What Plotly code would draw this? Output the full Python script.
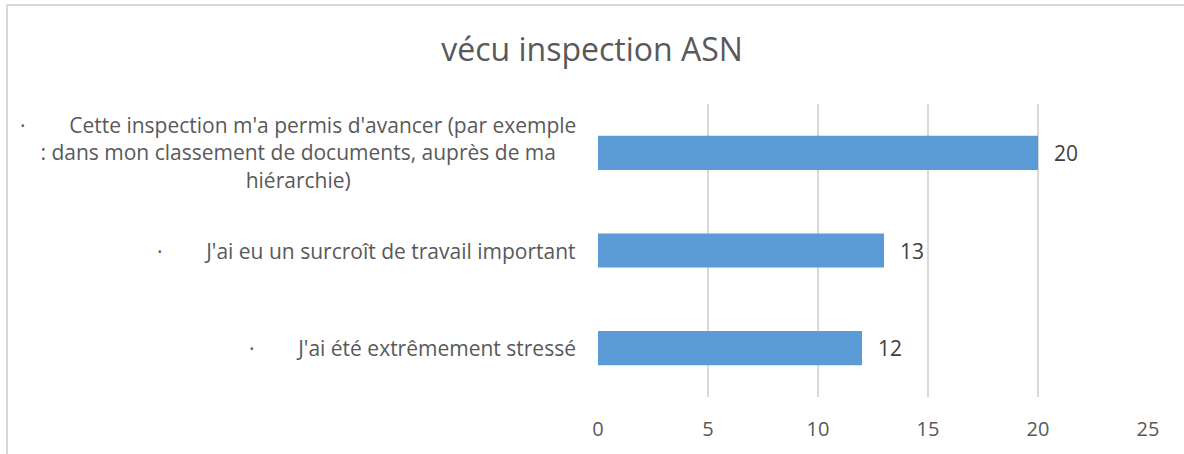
import plotly.graph_objects as go

NBSP = '\u00a0'

# categories, bottom to top as drawn
categories = [
    'stress',
    'travail',
    'avancer',
]
labels = [
    '·' + NBSP * 8 + "J'ai été extrêmement stressé",
    '·' + NBSP * 8 + "J'ai eu un surcroît de travail important",
    '·' + NBSP * 8 + "Cette inspection m'a permis d'avancer (par exemple<br>"
    ": dans mon classement de documents, auprès de ma<br>hiérarchie)",
]
values = [12, 13, 20]
x_ticks = [0, 5, 10, 15, 20, 25]

BAR_COLOR = '#5B9BD5'
TEXT_COLOR = '#595959'
GRID_COLOR = '#D9D9D9'
FONT = 'Open Sans, Noto Sans, sans-serif'

fig = go.Figure()
fig.add_trace(go.Bar(
    y=categories,
    x=values,
    orientation='h',
    marker=dict(color=BAR_COLOR, line=dict(width=0)),
    hoverinfo='x+y',
))

# category labels, centred multi-line like the original
for cat, lab in zip(categories, labels):
    fig.add_annotation(
        x=0, xref='paper', y=cat, yref='y',
        text=lab, showarrow=False,
        xanchor='right', yanchor='middle', align='center',
        xshift=-20,
        font=dict(family=FONT, size=21, color=TEXT_COLOR),
    )

# value labels at bar ends
for cat, val in zip(categories, values):
    fig.add_annotation(
        x=val, xref='x', y=cat, yref='y',
        text=str(val), showarrow=False,
        xanchor='left', yanchor='middle', xshift=14,
        font=dict(family=FONT, size=21, color='#404040'),
    )

# light frame around the chart (top and left visible)
fig.add_shape(
    type='rect', xref='paper', yref='paper',
    x0=-1.0745, x1=1.2, y0=-0.5, y1=1.338,
    line=dict(color=GRID_COLOR, width=2), fillcolor='rgba(0,0,0,0)',
    layer='below',
)

fig.update_layout(
    width=1184,
    height=454,
    margin=dict(l=598, r=36, t=104, b=57),
    paper_bgcolor='white',
    plot_bgcolor='white',
    showlegend=False,
    bargap=0.65,
    title=dict(
        text='vécu inspection ASN',
        x=0.5, xref='container', xanchor='center',
        y=0.89, yref='container', yanchor='middle',
        font=dict(family=FONT, size=32, color=TEXT_COLOR),
    ),
    xaxis=dict(
        range=[0, 25],
        tickvals=x_ticks,
        showgrid=True,
        gridcolor=GRID_COLOR,
        gridwidth=1.5,
        zeroline=False,
        showline=False,
        ticks='',
        ticklabelstandoff=18,
        tickfont=dict(family=FONT, size=20, color=TEXT_COLOR),
    ),
    yaxis=dict(
        categoryorder='array',
        categoryarray=categories,
        showticklabels=False,
        showgrid=False,
        zeroline=False,
        showline=False,
        ticks='',
    ),
)

fig.write_html("out.html", config={'displayModeBar': False},
               post_script="document.body.style.margin='0px';")
